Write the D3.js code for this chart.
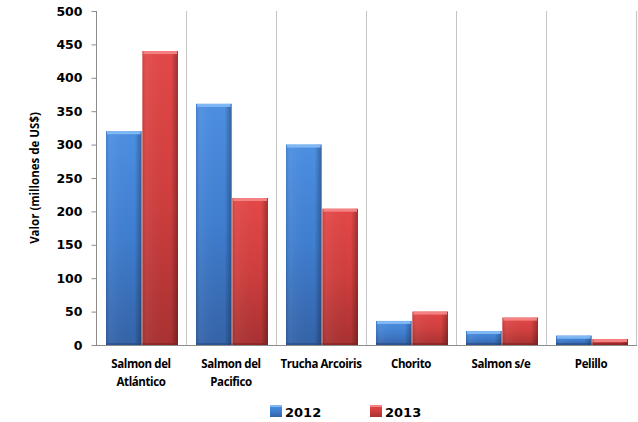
<!DOCTYPE html>
<html>
<head>
<meta charset="utf-8">
<script src="https://cdn.jsdelivr.net/npm/d3@7"></script>
<style>
  body { margin: 0; background: #fff; }
  svg { font-family: "DejaVu Sans", sans-serif; }
</style>
</head>
<body>
<svg id="chart" width="638" height="422"></svg>
<script>
// ============
// DATA
// ============
const categories = ["Salmon del|Atlántico", "Salmon del|Pacifico", "Trucha Arcoiris", "Chorito", "Salmon s/e", "Pelillo"];
const series = ["2012", "2013"];
const values2012 = [320, 361, 300, 36, 21, 14];
const values2013 = [440, 220, 204, 50, 41, 9];
const yTicks = [0, 50, 100, 150, 200, 250, 300, 350, 400, 450, 500];

const seriesValues = { "2012": values2012, "2013": values2013 };

const svg = d3.select("#chart");

const margin = { left: 96, right: 2, top: 11, bottom: 77 };
const width = 638;
const height = 422;

// gradients for the bevelled look
const defs = svg.append("defs");
const palette = {
	"2012": { top: "#4d8fe2", mid: "#3f7ed0", bottom: "#3463a8", edge: "#244a82", hi: "#80b8f4" },
	"2013": { top: "#e44848", mid: "#d03e3e", bottom: "#a93131", edge: "#7e2222", hi: "#f48282" }
};
series.forEach(function(s) {
	let g = defs.append("linearGradient").attr("id", "v" + s).attr("x1", 0).attr("x2", 0).attr("y1", 0).attr("y2", 1);
	g.append("stop").attr("offset", "0%").attr("stop-color", palette[s].top);
	g.append("stop").attr("offset", "50%").attr("stop-color", palette[s].mid);
	g.append("stop").attr("offset", "100%").attr("stop-color", palette[s].bottom);

	let h = defs.append("linearGradient").attr("id", "h" + s).attr("x1", 0).attr("x2", 1).attr("y1", 0).attr("y2", 0);
	h.append("stop").attr("offset", "0%").attr("stop-color", "#000").attr("stop-opacity", 0.12);
	h.append("stop").attr("offset", "12%").attr("stop-color", "#fff").attr("stop-opacity", 0.05);
	h.append("stop").attr("offset", "80%").attr("stop-color", "#000").attr("stop-opacity", 0);
	h.append("stop").attr("offset", "100%").attr("stop-color", "#000").attr("stop-opacity", 0.3);
});

// ============
// SCALES
// ============
var x = d3.scaleBand()
	.domain(categories)
	.range([margin.left, width - margin.right]);

var x1 = d3.scaleBand()
	.domain(series)
	.range([10, x.bandwidth() - 8])
	.paddingInner(0.02);

var y = d3.scaleLinear()
	.domain([0, 500])
	.range([height - margin.bottom, margin.top]);

// ============
// GRIDLINES
// ============
svg.append("g")
	.selectAll("line")
	.data(categories.slice(1))
	.enter()
	.append("line")
		.attr("x1", d => x(d) + 0.5)
		.attr("x2", d => x(d) + 0.5)
		.attr("y1", y(500))
		.attr("y2", y(0))
		.attr("stroke", "#c4c4c4");

svg.append("line")
	.attr("x1", width - margin.right + 0.5)
	.attr("x2", width - margin.right + 0.5)
	.attr("y1", y(500))
	.attr("y2", y(0))
	.attr("stroke", "#c4c4c4");

// ============
// BARS
// ============
const groups = svg.append("g")
	.selectAll("g")
	.data(categories)
	.enter()
	.append("g")
		.attr("transform", d => "translate(" + x(d) + ",0)");

series.forEach(function(s) {
	let bars = groups.append("g");
	bars.append("rect")
		.attr("x", x1(s))
		.attr("y", (d, i) => y(seriesValues[s][i]))
		.attr("width", x1.bandwidth())
		.attr("height", (d, i) => y(0) - y(seriesValues[s][i]))
		.attr("fill", "url(#v" + s + ")");
	bars.append("rect")
		.attr("x", x1(s))
		.attr("y", (d, i) => y(seriesValues[s][i]))
		.attr("width", x1.bandwidth())
		.attr("height", (d, i) => y(0) - y(seriesValues[s][i]))
		.attr("fill", "url(#h" + s + ")");
	// top highlight
	bars.append("rect")
		.attr("x", x1(s) + 1)
		.attr("y", (d, i) => y(seriesValues[s][i]))
		.attr("width", x1.bandwidth() - 2)
		.attr("height", (d, i) => Math.min(3, y(0) - y(seriesValues[s][i])))
		.attr("fill", palette[s].hi);
	// bottom edge
	bars.append("rect")
		.attr("x", x1(s))
		.attr("y", y(0) - 2)
		.attr("width", x1.bandwidth())
		.attr("height", 2)
		.attr("fill", palette[s].edge)
		.attr("opacity", 0.6);
});

// ============
// AXES
// ============
const yAxis = svg.append("g")
	.attr("transform", "translate(" + (margin.left + 0.5) + ",0)")
	.call(d3.axisLeft(y).tickValues(yTicks).tickSize(5).tickPadding(9));
yAxis.select(".domain").attr("stroke", "#8c8c8c").attr("d", "M0," + y(500) + "V" + y(0));
yAxis.selectAll(".tick line").attr("stroke", "#8c8c8c");
yAxis.selectAll(".tick text")
	.attr("font-size", 12.5)
	.attr("font-weight", "bold")
	.attr("font-family", "DejaVu Sans")
	.attr("fill", "#000");

svg.append("line")
	.attr("x1", margin.left)
	.attr("x2", width - margin.right + 1)
	.attr("y1", y(0) + 0.5)
	.attr("y2", y(0) + 0.5)
	.attr("stroke", "#8c8c8c");

// category labels
const catLabels = svg.append("g")
	.selectAll("text")
	.data(categories)
	.enter()
	.append("text")
		.attr("x", d => x(d) + x.bandwidth() / 2)
		.attr("y", 368)
		.attr("text-anchor", "middle")
		.attr("font-family", "Open Sans")
		.attr("font-size", 11.5)
		.attr("font-weight", "bold")
		.attr("letter-spacing", -0.4);

catLabels.selectAll("tspan")
	.data(d => d.split("|"))
	.enter()
	.append("tspan")
		.attr("x", function() { return d3.select(this.parentNode).attr("x"); })
		.attr("dy", (d, i) => i === 0 ? 0 : 18)
		.text(d => d);

// y label
svg.append("text")
	.attr("text-anchor", "middle")
	.attr("transform", "translate(39," + 178 + ")rotate(-90)")
	.attr("font-family", "Open Sans")
	.attr("font-size", 11.5)
	.attr("font-weight", "bold")
	.text("Valor (millones de US$)");

// ============
// LEGEND
// ============
const legendX = [270, 370];
const legend = svg.append("g")
	.selectAll("g")
	.data(series)
	.enter()
	.append("g")
		.attr("transform", (d, i) => "translate(" + legendX[i] + ",405)");

legend.append("rect")
	.attr("width", 12)
	.attr("height", 12)
	.attr("fill", d => "url(#v" + d + ")");
legend.append("rect")
	.attr("width", 12)
	.attr("height", 2)
	.attr("fill", d => palette[d].hi);
legend.append("text")
	.attr("x", 15)
	.attr("y", 12)
	.attr("font-family", "DejaVu Sans")
	.attr("font-size", 13)
	.attr("font-weight", "bold")
	.text(d => d);
</script>
</body>
</html>
